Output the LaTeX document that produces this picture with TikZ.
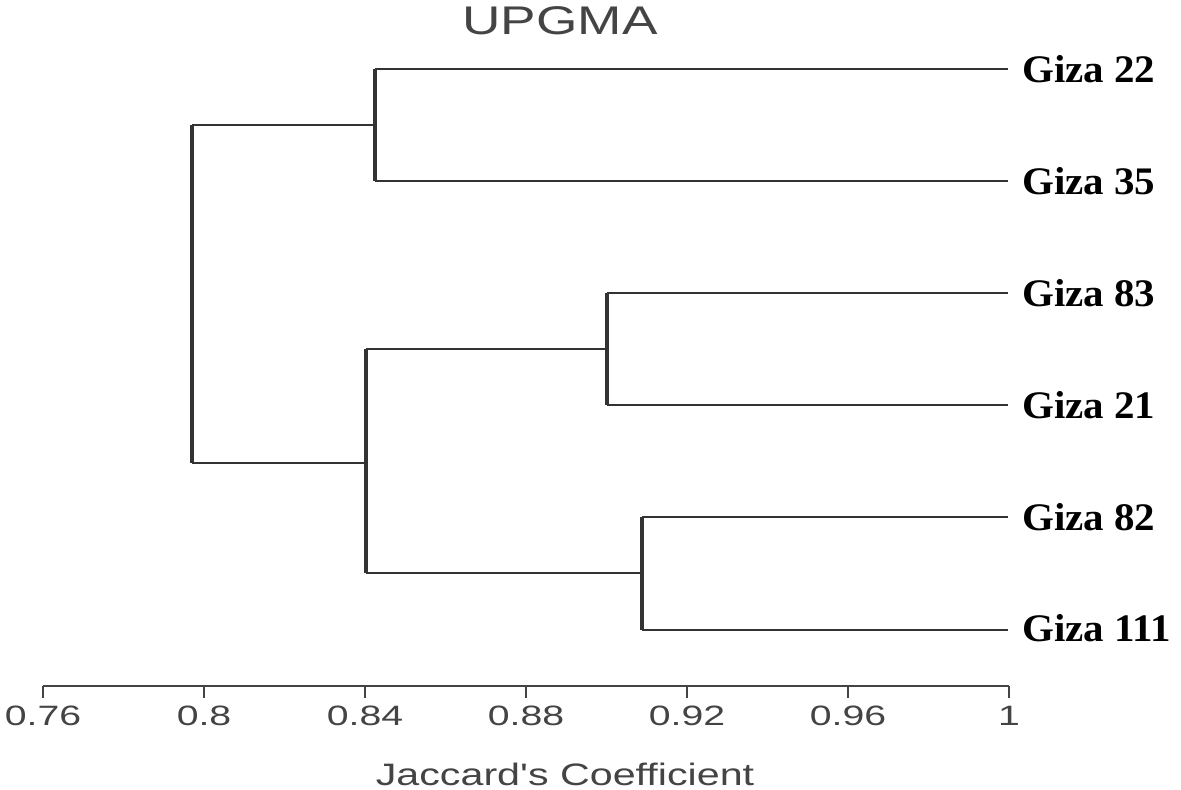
\documentclass[tikz,border=0pt]{standalone}
\usepackage{fontspec}
\setmainfont{Liberation Serif}
\newfontfamily\axisfont{Liberation Sans}
\definecolor{ink}{HTML}{333333}
\definecolor{axisgray}{HTML}{444444}
\begin{document}
\begin{tikzpicture}[x=1pt,y=-1pt,
  leaflabel/.style={anchor=base west,inner sep=0pt,text=black,
    font=\fontsize{39}{40}\selectfont\bfseries},
  vbar/.style={draw=ink,line width=3.5pt},
  hbar/.style={draw=ink,line width=2.4pt},
  joinbar/.style={draw=ink,line width=1.8pt},
  axisline/.style={draw=axisgray,line width=2.4pt},
  ticklabel/.style={inner sep=0pt,text=axisgray,font=\axisfont\fontsize{28}{30}\selectfont},
  sanslabel/.style={inner sep=0pt,text=axisgray}]
\useasboundingbox (0,0) rectangle (1181,790);
\fill[white] (0,0) rectangle (1181,790);

% title
\node[sanslabel,font=\axisfont\fontsize{40}{42}\selectfont] (title) at (560,21) {\scalebox{1.33}[1]{UPGMA}};

% leaf end points
\coordinate (e22) at (1008,69);
\coordinate (e35) at (1008,181);
\coordinate (e83) at (1008,293);
\coordinate (e21) at (1008,405);
\coordinate (e82) at (1008,517);
\coordinate (e111) at (1008,630);

% leaf labels
\node[leaflabel] (l22) at (1022,82) {\scalebox{1.05}[1]{Giza 22}};
\node[leaflabel] (l35) at (1022,194) {\scalebox{1.05}[1]{Giza 35}};
\node[leaflabel] (l83) at (1022,306) {\scalebox{1.05}[1]{Giza 83}};
\node[leaflabel] (l21) at (1022,418) {\scalebox{1.05}[1]{Giza 21}};
\node[leaflabel] (l82) at (1022,530) {\scalebox{1.05}[1]{Giza 82}};
\node[leaflabel] (l111) at (1022,641) {\scalebox{1.05}[1]{Giza 111}};

% internal nodes (vertical bars)
\coordinate (a1) at (375,69);  \coordinate (a2) at (375,181); \coordinate (a) at (375,125);
\coordinate (b1) at (607,293); \coordinate (b2) at (607,405); \coordinate (b) at (607,349);
\coordinate (c1) at (642,517); \coordinate (c2) at (642,630); \coordinate (c) at (642,573);
\coordinate (d1) at (366,349); \coordinate (d2) at (366,573); \coordinate (d) at (366,463);
\coordinate (r1) at (192,125); \coordinate (r2) at (192,463);

% leaf branches
\path[hbar] (a1) -- (e22);
\path[hbar] (a2) -- (e35);
\path[hbar] (b1) -- (e83);
\path[hbar] (b2) -- (e21);
\path[hbar] (c1) -- (e82);
\path[hbar] (c2) -- (e111);

% joins
\path[joinbar] (d1) -- (b);
\path[joinbar] (d2) -- (c);
\path[hbar] (r1) -- (a);
\path[hbar] (r2) -- (d);

% vertical bars
\path[vbar] (a1) -- (a2);
\path[vbar] (b1) -- (b2);
\path[vbar] (c1) -- (c2);
\path[vbar] (d1) -- (d2);
\path[vbar] (r1) -- (r2);

% axis
\coordinate (ax0) at (43,686);
\coordinate (ax1) at (1009,686);
\path[axisline] (ax0) -- (ax1);
\foreach \v/\lab [count=\i from 0] in {0.76/0.76,0.80/0.8,0.84/0.84,0.88/0.88,0.92/0.92,0.96/0.96,1.00/1} {
  \coordinate (t\i) at ({43+\i*161},686);
  \path[axisline] (t\i) -- ++(0,12);
  \node[ticklabel] (tl\i) at ({43+\i*161},716) {\scalebox{1.4}[1]{\lab}};
}

\node[sanslabel,font=\axisfont\fontsize{31}{33}\selectfont] (xlabel) at (565,774) {\scalebox{1.33}[1]{Jaccard's Coefficient}};
\end{tikzpicture}
\end{document}
